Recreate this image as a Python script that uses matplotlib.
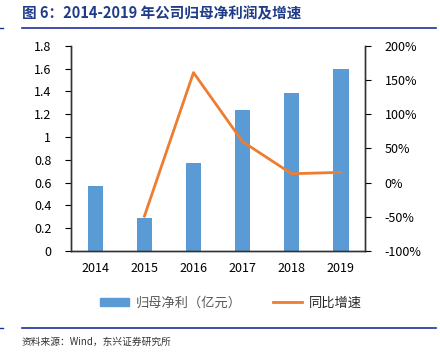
import numpy as np
import matplotlib
matplotlib.use('Agg')
import matplotlib.pyplot as plt
from matplotlib.ticker import FuncFormatter
from matplotlib.patches import Patch
from matplotlib.lines import Line2D

plt.rcParams['font.family'] = ['Noto Sans CJK SC', 'DejaVu Sans']

years = ['2014', '2015', '2016', '2017', '2018', '2019']
profit = [0.57, 0.29, 0.77, 1.24, 1.39, 1.60]          # 归母净利（亿元）
growth_years = ['2015', '2016', '2017', '2018', '2019']
growth = [-49, 161, 60, 13, 15]                        # 同比增速 (%)

bar_color = '#5B9BD5'
line_color = '#ED7D31'
title_color = '#1F3C88'

fig = plt.figure(figsize=(4.4, 3.56), dpi=100)
ax = fig.add_axes([0.161, 0.295, 0.669, 0.576])

x = np.arange(len(years))
ax.bar(x, profit, width=0.32, color=bar_color, zorder=2)
ax.set_xlim(-0.5, len(years) - 0.5)
ax.set_ylim(0, 1.8)
ax.set_yticks(np.arange(0, 1.81, 0.2))
ax.yaxis.set_major_formatter(FuncFormatter(lambda v, p: f'{v:.1f}'.rstrip('0').rstrip('.') if v else '0'))
ax.set_xticks(x)
ax.set_xticklabels(years)
ax.tick_params(axis='x', length=0, pad=8, labelsize=9)
ax.tick_params(axis='y', direction='out', length=4, labelsize=9, pad=10)
ax.spines['top'].set_visible(False)

ax2 = ax.twinx()
gx = [years.index(y) for y in growth_years]
ax2.plot(gx, growth, color=line_color, lw=2, zorder=3)
ax2.set_ylim(-100, 200)
ax2.set_yticks(np.arange(-100, 201, 50))
ax2.yaxis.set_major_formatter(FuncFormatter(lambda v, p: f'{int(v)}%'))
ax2.tick_params(axis='y', direction='out', length=4, labelsize=9, pad=10)
ax2.spines['top'].set_visible(False)
for a in (ax, ax2):
    for s in a.spines.values():
        s.set_color('#333333')
        s.set_linewidth(1)

# title and rules
fig.text(0.05, 0.963, '图 6：2014-2019 年公司归母净利润及增速', color=title_color,
         fontsize=10.5, fontweight='bold', va='center', ha='left')
for yy in (0.921, 0.079):
    fig.add_artist(Line2D([0.05, 0.99], [yy, yy], color='#1F2F9F', lw=1.2))
    fig.add_artist(Line2D([0.0, 0.007], [yy, yy], color='#1F2F9F', lw=1))

# legend
handles = [Patch(color=bar_color), Line2D([0], [0], color=line_color, lw=2)]
leg = fig.legend(handles, ['归母净利（亿元）', '同比增速'], loc='center',
                 bbox_to_anchor=(0.525, 0.149), ncol=2, frameon=False, fontsize=9.5,
                 handlelength=2.2, handleheight=0.55, columnspacing=2.4, handletextpad=0.5)
for t in leg.get_texts():
    t.set_color('#595959')
leg.get_texts()[1].set_color('#262626')

fig.text(0.05, 0.039, '资料来源：Wind，东兴证券研究所', fontsize=7, style='italic',
         va='center', ha='left', color='#333333')

fig.savefig('out.png', dpi=100)
